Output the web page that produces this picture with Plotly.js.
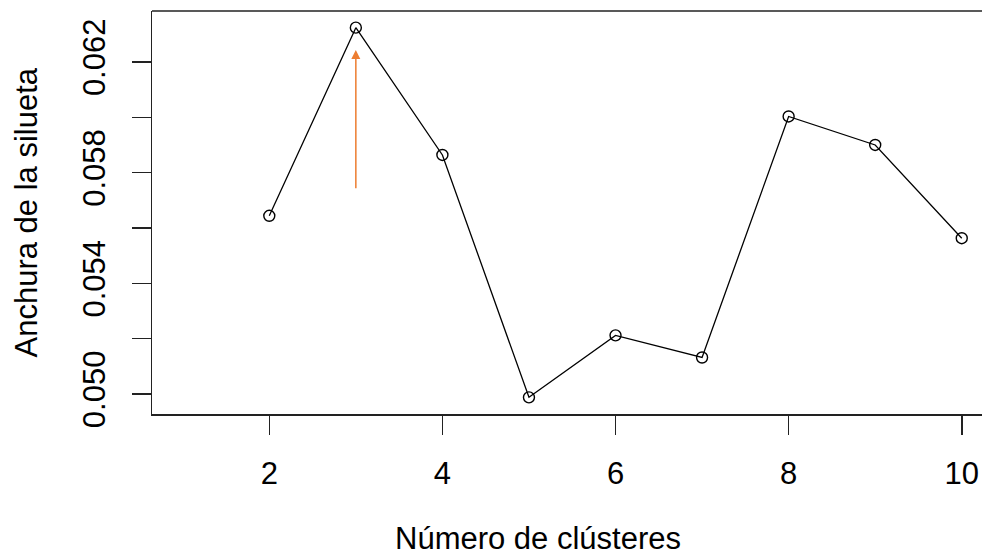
<!DOCTYPE html>
<html>
<head>
<meta charset="utf-8">
<script src="https://cdn.plot.ly/plotly-3.0.1.min.js"></script>
<style>
  html, body { margin: 0; padding: 0; background: #ffffff; }
  #chart { width: 982px; height: 559px; }
</style>
</head>
<body>
<div id="chart"></div>
<script>
// Data
const clusters = [2, 3, 4, 5, 6, 7, 8, 9, 10];
const silhouetteWidth = [0.05644, 0.06324, 0.05864, 0.04988, 0.05212, 0.05132, 0.06003, 0.05900, 0.05563];

const xTickVals = [2, 4, 6, 8, 10];
const xTickText = ['2', '4', '6', '8', '10'];
const yTickVals = [0.050, 0.052, 0.054, 0.056, 0.058, 0.060, 0.062];
const yTickText = ['0.050', '', '0.054', '', '0.058', '', '0.062'];

// Arrow marking the optimum number of clusters
const arrowX = 3;
const arrowTail = 0.05738;
const arrowHead = 0.06243;

const xTitle = 'Número de clústeres';
const yTitle = 'Anchura de la silueta';

const FONT = '"Liberation Sans", Arial, "DejaVu Sans", sans-serif';
const AXC = '#222222';

const trace = {
  x: clusters,
  y: silhouetteWidth,
  type: 'scatter',
  mode: 'lines+markers',
  line: { color: '#000000', width: 1.3 },
  marker: { symbol: 'circle-open', size: 11, color: '#000000', line: { width: 1.4, color: '#000000' } },
  hoverinfo: 'x+y',
  showlegend: false
};

const layout = {
  width: 982,
  height: 559,
  margin: { l: 152, r: 0, t: 11, b: 145, pad: 0 },
  paper_bgcolor: '#ffffff',
  plot_bgcolor: '#ffffff',
  font: { family: FONT, color: '#000000', size: 31 },
  xaxis: {
    range: [0.645, 10.234],
    tickmode: 'array',
    tickvals: xTickVals,
    ticktext: xTickText,
    ticks: 'outside',
    ticklen: 19,
    tickwidth: 1.5,
    tickcolor: AXC,
    showline: true,
    linecolor: AXC,
    linewidth: 1.5,
    showgrid: false,
    zeroline: false,
    tickfont: { family: FONT, size: 31, color: '#000000' },
    ticklabelstandoff: 12
  },
  yaxis: {
    range: [0.049278, 0.063842],
    tickmode: 'array',
    tickvals: yTickVals,
    ticktext: yTickText,
    tickangle: -90,
    ticks: 'outside',
    ticklen: 19,
    tickwidth: 1.5,
    tickcolor: AXC,
    showline: true,
    linecolor: AXC,
    linewidth: 1.5,
    showgrid: false,
    zeroline: false,
    tickfont: { family: FONT, size: 31, color: '#000000' },
    ticklabelstandoff: 14
  },
  shapes: [
    { type: 'line', xref: 'paper', yref: 'paper', x0: 0, x1: 1, y0: 1, y1: 1,
      line: { color: AXC, width: 1.5 } }
  ],
  annotations: [
    {
      x: arrowX, y: arrowHead, ax: arrowX, ay: arrowTail,
      xref: 'x', yref: 'y', axref: 'x', ayref: 'y',
      text: '', showarrow: true,
      arrowhead: 2, arrowsize: 1.2, arrowwidth: 1.5, arrowcolor: '#ED7D31'
    },
    {
      text: xTitle, xref: 'paper', yref: 'paper',
      x: 0.465, y: -0.3092, xanchor: 'center', yanchor: 'middle',
      showarrow: false, font: { family: FONT, size: 31, color: '#000000' }
    },
    {
      text: yTitle, xref: 'paper', yref: 'paper',
      x: -0.1518, y: 0.5, xanchor: 'center', yanchor: 'middle', textangle: -90,
      showarrow: false, font: { family: FONT, size: 31, color: '#000000' }
    }
  ]
};

Plotly.newPlot('chart', [trace], layout, { displayModeBar: false, staticPlot: true });
</script>
</body>
</html>
